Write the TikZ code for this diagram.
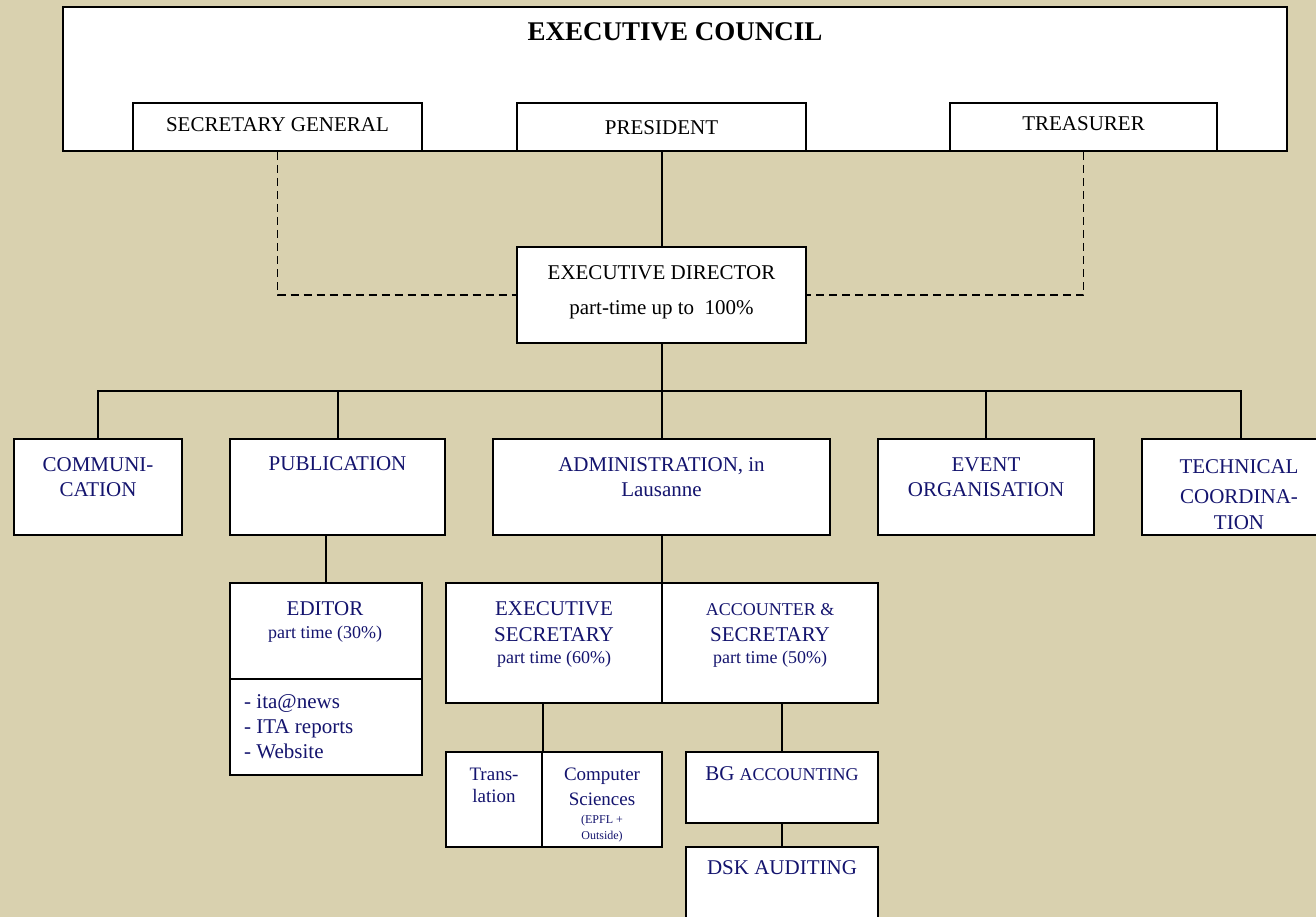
\documentclass[tikz,border=0pt]{standalone}
\usepackage{fontspec}
\setmainfont{Liberation Serif}
\definecolor{bg}{RGB}{217,209,175}
\definecolor{navy}{RGB}{20,20,110}
\newcommand\mybox[5]{\node[bx, minimum width={#4-#2}, minimum height={#5-#3}] (#1) at ({(#2+#4)/2},{(#3+#5)/2}) {};}
\newcommand\mytxt[5]{\node[#2, anchor=base] (#1) at (#3,#4) {#5};}
\begin{document}
\begin{tikzpicture}[x=1pt,y=-1pt,
  bx/.style={draw=black, fill=white, line width=2pt, inner sep=0pt},
  ln/.style={draw=black, line width=2pt},
  dl/.style={draw=black, line width=1.8pt, dash pattern=on 8pt off 5pt},
  bk/.style={font=\fontsize{21}{25}\selectfont, text=black, inner sep=0pt},
  bl/.style={font=\fontsize{21}{25}\selectfont, text=navy, inner sep=0pt},
  bs/.style={font=\fontsize{18}{22}\selectfont, text=navy, inner sep=0pt},
  bm/.style={font=\fontsize{19}{22}\selectfont, text=navy, inner sep=0pt},
  bt/.style={font=\fontsize{12}{14}\selectfont, text=navy, inner sep=0pt},
  big/.style={font=\fontsize{27}{30}\selectfont\bfseries, text=black, inner sep=0pt}]
\useasboundingbox (0,0) rectangle (1316,917);
\clip (0,0) rectangle (1316,917);
\fill[bg] (0,0) rectangle (1316,917);

% executive council
\mybox{ec}{63}{7}{1287}{151}
\mybox{sg}{133}{103}{422}{151}
\mybox{pr}{517}{103}{806}{151}
\mybox{tr}{950}{103}{1217}{151}
\mybox{ed}{517}{247}{806}{343}

% second row
\mybox{comm}{14}{439}{182}{535}
\mybox{pub}{230}{439}{445}{535}
\mybox{adm}{493}{439}{830}{535}
\mybox{ev}{878}{439}{1094}{535}
\mybox{tech}{1142}{439}{1340}{535}

% third row
\mybox{edi}{230}{583}{422}{679}
\mybox{lst}{230}{679}{422}{775}
\mybox{es}{446}{583}{662}{703}
\mybox{acc}{662}{583}{878}{703}
\mybox{trans}{446}{752}{542}{847}
\mybox{cs}{542}{752}{662}{847}
\mybox{bg}{686}{752}{878}{823}
\mybox{dsk}{686}{847}{878}{940}

% connectors
\draw[dl] (sg.south) |- (ed.west);
\draw[dl] (tr.south) |- (ed.east);
\draw[ln] (pr.south) -- (ed.north);
\coordinate (bus) at (661.5,391);
\draw[ln] (ed.south) -- (adm.north);
\draw[ln] (comm.north) -- (comm.north |- bus) -- (tech.north |- bus) -- (tech.north);
\draw[ln] (pub.north) -- (pub.north |- bus);
\draw[ln] (ev.north) -- (ev.north |- bus);
\draw[ln] (edi.north) -- (edi.north |- pub.south);
\draw[ln] (adm.south) -- (adm.south |- es.north);
\draw[ln] (trans.north east |- es.south) -- (trans.north east);
\draw[ln] (bg.north |- acc.south) -- (bg.north);
\draw[ln] (bg.south) -- (dsk.north);

% texts
\mytxt{ecT}{big}{675}{41}{EXECUTIVE COUNCIL}
\mytxt{sgT}{bk}{277.5}{132}{SECRETARY GENERAL}
\mytxt{prT}{bk}{661.5}{135}{PRESIDENT}
\mytxt{trT}{bk}{1083.5}{131}{TREASURER}
\mytxt{edT1}{bk}{661.5}{279}{EXECUTIVE DIRECTOR}
\mytxt{edT2}{bk}{661.5}{314}{part-time up to\ \ 100\%}

\mytxt{commT1}{bl}{98}{471}{COMMUNI-}
\mytxt{commT2}{bl}{98}{496}{CATION}
\mytxt{pubT}{bl}{337.5}{470}{PUBLICATION}
\mytxt{admT1}{bl}{661.5}{471}{ADMINISTRATION, in}
\mytxt{admT2}{bl}{661.5}{496}{Lausanne}
\mytxt{evT1}{bl}{986}{471}{EVENT}
\mytxt{evT2}{bl}{986}{496}{ORGANISATION}
\mytxt{techT1}{bl}{1239}{473}{TECHNICAL}
\mytxt{techT2}{bl}{1239}{503}{COORDINA-}
\mytxt{techT3}{bl}{1239}{529}{TION}

\mytxt{ediT1}{bl}{325}{615}{EDITOR}
\mytxt{ediT2}{bs}{325}{638}{part time (30\%)}
\node[bl, anchor=base west] (lstT1) at (244,708) {- ita@news};
\node[bl, anchor=base west] (lstT2) at (244,733) {- ITA reports};
\node[bl, anchor=base west] (lstT3) at (244,758) {- Website};

\mytxt{esT1}{bl}{554}{615}{EXECUTIVE}
\mytxt{esT2}{bl}{554}{641}{SECRETARY}
\mytxt{esT3}{bs}{554}{663}{part time (60\%)}
\mytxt{accT1}{bs}{770}{615}{ACCOUNTER \&}
\mytxt{accT2}{bl}{770}{641}{SECRETARY}
\mytxt{accT3}{bs}{770}{663}{part time (50\%)}

\mytxt{transT1}{bm}{494}{780}{Trans-}
\mytxt{transT2}{bm}{494}{802}{lation}
\mytxt{csT1}{bm}{602}{780}{Computer}
\mytxt{csT2}{bm}{602}{805}{Sciences}
\mytxt{csT3}{bt}{602}{823}{(EPFL +}
\mytxt{csT4}{bt}{602}{839}{Outside)}

\mytxt{bgT}{bl}{782}{780}{BG {\fontsize{18}{22}\selectfont ACCOUNTING}}
\mytxt{dskT}{bl}{782}{874}{DSK AUDITING}
\end{tikzpicture}
\end{document}
